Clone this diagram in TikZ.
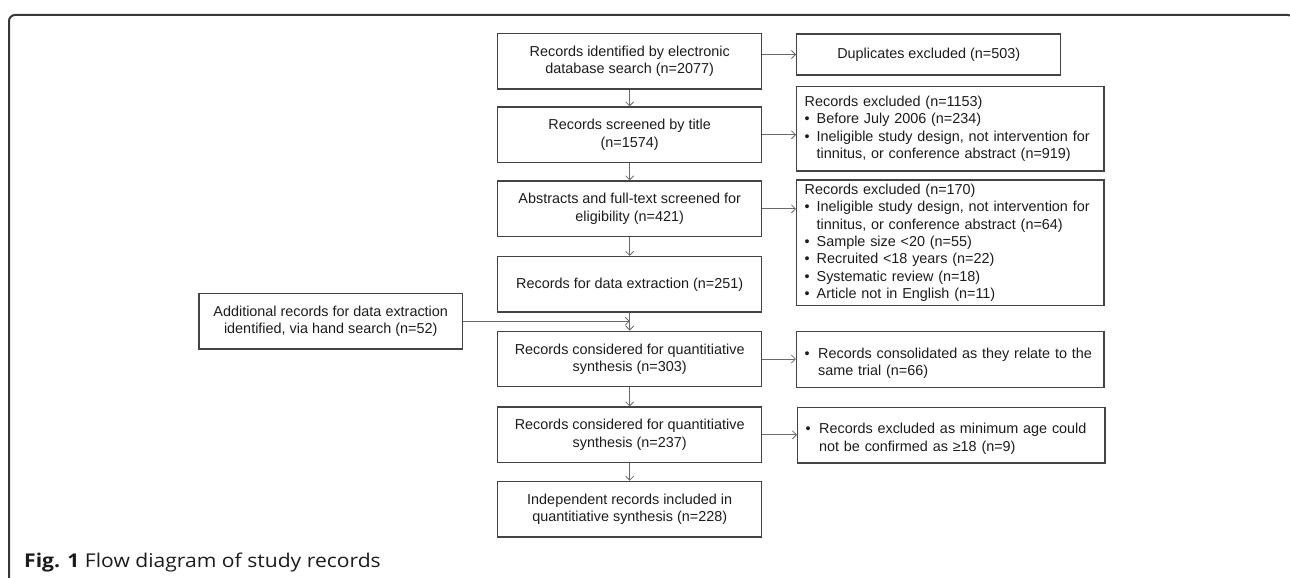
\documentclass[tikz,border=0pt]{standalone}
\usepackage{fontspec}
\setmainfont{Liberation Sans}
\newfontfamily\capfont{Open Sans}
\usetikzlibrary{arrows.meta}
\definecolor{framecol}{HTML}{383838}
\definecolor{boxcol}{HTML}{444444}
\definecolor{arrcol}{HTML}{6A6A6A}
\definecolor{txt}{HTML}{1C1C1C}
\newcommand\itm[1]{\par\noindent\hangindent=12pt\hangafter=1\makebox[12pt][l]{•}#1\par}
\newcommand\itmb[1]{\par\noindent\hangindent=13.5pt\hangafter=1\makebox[13.5pt][l]{•}#1\par}
\begin{document}
\begin{tikzpicture}[x=1pt,y=-1pt,
  box/.style={draw=boxcol, line width=1.4pt, inner sep=0pt, text=txt,
    font=\fontsize{14.4}{17.3}\selectfont},
  mainbox/.style={box, minimum width=264pt, minimum height=55.5pt, align=center},
  sidebox/.style={box, text width=291.3pt, inner xsep=8pt,
    execute at begin node={\raggedright\parskip=0pt\parindent=0pt}},
  arr/.style={draw=arrcol, line width=0.8pt, -{Straight Barb[length=4pt,width=8pt]}}]
\useasboundingbox (0,0) rectangle (1290,578);
% frame
\draw[framecol, line width=2pt, rounded corners=6pt] (9,590) -- (9,15) -- (1294,15) -- (1294,590);
% main column
\node[mainbox] (b1) at (629.7,61.2) {Records identified by electronic\\database search (n=2077)};
\node[mainbox] (b2) at (629.7,134.8) {Records screened by title\\(n=1574)};
\node[mainbox] (b3) at (629.7,208.8) {Abstracts and full-text screened for\\eligibility (n=421)};
\node[mainbox] (b4) at (629.7,284.3) {Records for data extraction (n=251)};
\node[mainbox] (b5) at (629.7,359) {Records considered for quantitiative\\synthesis (n=303)};
\node[mainbox] (b6) at (629.7,434.8) {Records considered for quantitiative\\synthesis (n=237)};
\node[mainbox] (b7) at (629.7,509.2) {Independent records included  in\\quantitiative synthesis (n=228)};
% left box
\node[mainbox, minimum width=263.5pt] (lb) at (330.7,321.2) {Additional records for data extraction\\identified, via hand search (n=52)};
% side boxes
\node[box, minimum width=264pt, minimum height=41pt] (dup) at (928.7,54.5) {Duplicates excluded (n=503)};
\node[sidebox, minimum height=84.3pt] (r2) at (950.3,128.8) {Records excluded (n=1153)
\itm{Before July 2006 (n=234)}
\itm{Ineligible study design, not intervention for\newline tinnitus, or conference abstract (n=919)}};
\node[sidebox, minimum height=125.7pt] (r3) at (950.3,242.8) {Records excluded (n=170)
\itm{Ineligible study design, not intervention for\newline tinnitus, or conference abstract (n=64)}
\itm{Sample size <20 (n=55)}
\itm{Recruited <18 years (n=22)}
\itm{Systematic review (n=18)}
\itm{Article not in English (n=11)}};
\node[sidebox, minimum height=55.6pt] (r4) at (950.3,359.5) {\itmb{Records consolidated as they relate to the\newline same trial (n=66)}};
\node[sidebox, minimum height=55.3pt] (r5) at (951.3,435.3) {\itmb{Records excluded as minimum age could\newline not be confirmed as ≥18 (n=9)}};
% vertical arrows
\draw[arr] (b1.south) -- (b2.north);
\draw[arr] (b2.south) -- (b3.north);
\draw[arr] (b3.south) -- (b4.north);
\draw[arr] (b4.south) -- (b5.north);
\draw[arr] (b5.south) -- (b6.north);
\draw[arr] (b6.south) -- (b7.north);
% side arrows
\draw[arr] (b1.east |- dup.west) -- (dup.west);
\draw[arr] (b2.east) -- (b2.east -| r2.west);
\draw[arr] (b3.east) -- (b3.east -| r3.west);
\draw[arr] (b5.east) -- (b5.east -| r4.west);
\draw[arr] (b6.east) -- (b6.east -| r5.west);
% hand search arrow
\coordinate (join) at (lb.east -| b4.south);
\draw[arr] (lb.east) -- (join);
% caption
\node[anchor=base west, inner sep=0pt, text=txt, xscale=1.11, transform shape,
  font=\capfont\fontsize{19}{22}\selectfont] (cap) at (24,567.5) {\textbf{Fig. 1} Flow diagram of study records};
\end{tikzpicture}
\end{document}
